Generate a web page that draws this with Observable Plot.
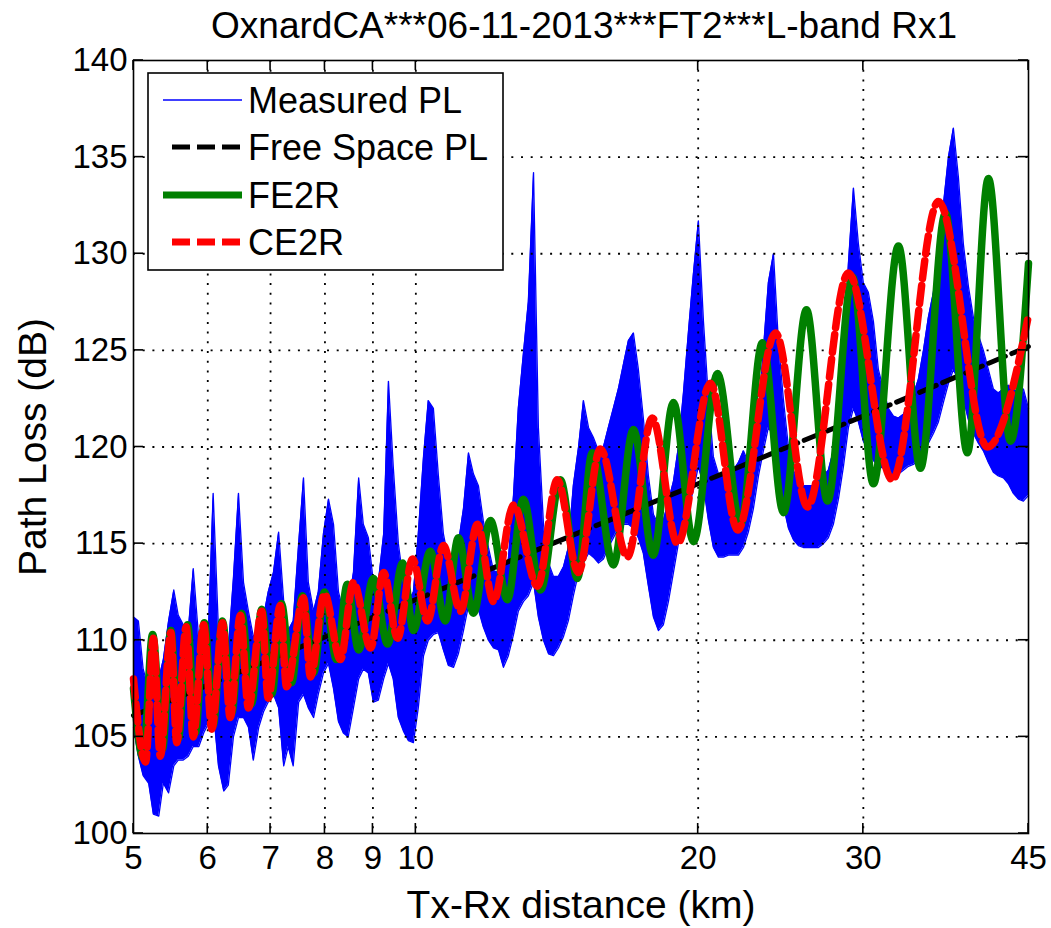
<!DOCTYPE html>
<html>
<head>
<meta charset="utf-8">
<script src="https://cdn.jsdelivr.net/npm/d3@7"></script>
<script src="https://cdn.jsdelivr.net/npm/@observablehq/plot@0.6"></script>
<style>
  html, body { margin: 0; padding: 0; background: #fff; }
  #chart { width: 1051px; height: 928px; }
</style>
</head>
<body>
<div id="chart"></div>
<script>
// ---------- data ----------
const titleText = "OxnardCA***06-11-2013***FT2***L-band Rx1";
const xLabel = "Tx-Rx distance (km)";
const yLabel = "Path Loss (dB)";
const xTicks = [5, 6, 7, 8, 9, 10, 20, 30, 45];
const yTicks = [100, 105, 110, 115, 120, 125, 130, 135, 140];
const legendNames = ["Measured PL", "Free Space PL", "FE2R", "CE2R"];

// Measured PL: distance (km) with lower / upper envelope of the dense trace (dB)
const measDist = [5.00,5.06,5.12,5.19,5.25,5.32,5.38,5.45,5.52,5.58,5.65,5.72,5.79,5.87,5.94,6.01,6.08,6.16,6.24,6.31,
  6.39,6.47,6.55,6.63,6.71,6.80,6.88,6.96,7.05,7.14,7.23,7.31,7.40,7.50,7.59,7.68,7.78,7.87,7.97,8.07,
  8.17,8.27,8.37,8.47,8.58,8.69,8.79,8.90,9.01,9.12,9.24,9.35,9.46,9.58,9.70,9.82,9.94,10.06,10.19,10.31,
  10.44,10.57,10.70,10.83,10.97,11.10,11.24,11.38,11.52,11.66,11.80,11.95,12.10,12.25,12.40,12.55,12.71,12.86,13.02,13.18,
  13.35,13.51,13.68,13.85,14.02,14.19,14.37,14.54,14.72,14.91,15.09,15.28,15.46,15.66,15.85,16.04,16.24,16.44,16.65,16.85,
  17.06,17.27,17.48,17.70,17.92,18.14,18.36,18.59,18.82,19.05,19.29,19.53,19.77,20.01,20.26,20.51,20.76,21.02,21.28,21.54,
  21.81,22.08,22.35,22.62,22.90,23.19,23.47,23.76,24.06,24.35,24.65,24.96,25.27,25.58,25.89,26.21,26.54,26.87,27.20,27.53,
  27.87,28.22,28.57,28.92,29.28,29.64,30.00,30.37,30.75,31.13,31.51,31.90,32.30,32.70,33.10,33.51,33.92,34.34,34.77,35.19,
  35.63,36.07,36.51,36.97,37.42,37.88,38.35,38.83,39.31,39.79,40.28,40.78,41.28,41.79,42.31,42.83,43.36,43.90,44.44,45.00];
const measLo = [105.5,104.0,103.0,102.6,101.0,100.9,102.6,102.1,103.5,103.8,103.8,104.0,104.5,104.5,105.2,105.7,106.5,103.5,102.2,102.5,
  105.0,106.0,106.0,105.5,103.8,105.5,106.3,106.8,107.2,106.5,103.5,104.5,103.5,106.8,107.2,106.5,106.0,107.2,108.3,108.8,
  107.5,105.8,105.2,105.0,106.5,108.0,108.5,108.3,106.8,106.9,108.0,108.8,108.0,106.0,105.3,104.8,104.7,106.5,109.2,110.0,
  110.3,110.4,109.5,108.7,108.6,109.3,110.5,111.8,112.0,111.6,110.7,110.0,109.6,109.5,108.6,109.2,110.3,111.5,112.0,112.3,
  113.0,111.2,110.0,109.3,109.2,109.6,110.2,111.0,112.3,113.5,114.0,114.5,114.3,114.0,114.2,114.8,115.3,115.8,116.0,116.0,
  115.8,115.3,114.5,112.8,111.2,110.5,110.8,112.0,113.5,115.0,116.2,116.8,117.8,119.0,118.0,116.2,114.8,114.3,114.3,114.4,
  114.4,114.4,114.8,115.6,116.8,118.5,119.8,121.0,120.6,118.8,117.0,115.8,115.2,114.9,114.8,114.8,114.8,114.8,115.0,115.3,
  116.0,117.3,119.0,121.0,122.0,121.3,120.3,119.8,119.3,119.0,118.9,118.7,118.6,118.6,118.8,119.0,119.1,119.3,119.7,120.2,
  120.7,121.3,122.3,123.3,124.0,123.5,122.5,121.4,120.7,120.2,119.8,119.2,118.7,118.5,118.4,118.1,117.6,117.3,117.2,117.5];
const measHi = [111.2,111.0,108.5,107.5,107.0,108.0,109.0,111.0,112.6,111.3,110.8,110.5,113.7,110.0,109.5,110.5,117.6,110.5,108.8,109.5,
  113.2,117.6,113.0,111.5,110.2,110.5,111.2,112.5,113.5,115.6,112.0,110.5,111.0,115.0,118.4,113.0,111.5,112.5,115.5,117.3,
  116.0,112.5,111.5,111.8,113.5,118.4,116.0,115.3,113.0,113.0,115.5,123.4,119.0,115.0,113.0,112.0,112.5,115.5,119.5,122.4,
  122.0,118.5,115.5,114.2,114.2,115.0,116.8,119.7,118.6,118.0,116.2,114.8,113.6,113.5,113.5,114.2,117.5,122.0,124.8,127.5,
  134.2,121.0,116.0,114.0,113.3,113.3,113.8,114.8,118.0,120.0,122.4,121.0,120.5,119.8,120.0,121.0,122.0,123.0,124.3,125.5,
  125.9,124.0,121.5,118.5,116.5,116.0,116.2,117.2,118.2,120.0,122.8,126.0,129.0,131.7,126.5,122.5,119.5,118.6,118.5,118.8,
  118.8,119.2,119.8,119.2,119.6,121.8,125.0,128.5,130.0,125.5,122.5,120.0,118.8,118.2,118.0,118.0,118.0,118.3,118.5,118.8,
  119.8,121.5,124.5,129.5,133.4,130.5,128.5,128.0,126.5,124.0,123.0,122.0,121.6,121.5,121.7,122.2,122.7,123.5,125.0,126.7,
  128.0,130.0,132.5,135.0,136.5,134.0,130.5,128.3,126.7,125.8,125.0,124.0,123.0,122.8,123.0,123.2,123.0,122.8,123.0,122.0];

// Free space path loss
const fsDist = [5, 10, 20, 30, 45];
const fsPL = [106.1, 112.1, 118.1, 121.6, 125.2];

// FE2R model: successive peaks and troughs
const fe2rDist = [5.00,5.12,5.24,5.37,5.48,5.58,5.71,5.82,5.95,6.08,6.22,6.36,6.52,6.68,6.85,7.02,7.19,7.37,7.57,7.78,
  7.99,8.23,8.45,8.69,9.01,9.33,9.68,9.94,10.36,10.75,11.10,11.52,12.01,12.52,13.02,13.58,14.26,14.87,15.42,16.24,
  17.06,17.91,18.82,19.77,20.97,22.19,23.42,24.66,26.09,27.47,29.21,30.75,32.70,34.51,36.70,38.73,40.78,43.05,45.00];
const fe2rPL = [107.5,103.9,110.3,104.4,110.5,104.9,110.8,105.2,110.9,105.6,111.0,106.2,111.4,106.7,111.6,107.2,111.9,107.8,112.3,108.3,
  112.5,109.0,112.9,109.5,113.2,109.8,114.0,110.5,114.6,111.0,115.3,111.4,116.2,112.1,117.3,112.6,118.3,113.2,119.7,113.9,
  120.9,114.4,122.3,115.1,123.8,116.0,125.4,116.6,127.1,117.2,128.8,118.1,130.4,118.9,132.1,119.7,133.9,120.3,129.5];

// CE2R model: successive peaks and troughs
const ce2rDist = [5.00,5.15,5.25,5.34,5.48,5.56,5.69,5.79,5.94,6.06,6.22,6.34,6.50,6.63,6.85,6.96,7.17,7.28,7.59,7.72,
  7.99,8.31,8.58,8.95,9.24,9.56,9.92,10.29,10.70,11.16,11.63,12.10,12.71,13.48,14.15,14.90,15.73,16.81,17.87,19.01,
  20.61,22.03,24.18,26.16,28.92,32.22,36.07,40.68,45.00];
const ce2rPL = [108.0,103.7,110.1,104.0,110.4,104.7,110.7,105.0,110.8,105.4,110.9,106.0,111.3,106.5,111.5,107.0,111.8,107.6,112.2,108.1,
  112.4,109.0,113.0,109.6,113.5,110.1,114.2,111.0,114.9,111.5,116.0,112.0,117.0,112.8,118.3,113.5,119.9,114.3,121.5,115.0,
  123.3,115.7,125.9,116.9,129.0,118.3,132.7,120.0,126.8];

// ---------- tables for the library ----------
const meas = measDist.map((d, i) => ({d, lo: measLo[i], hi: measHi[i]}));
const fs = fsDist.map((d, i) => ({d, v: fsPL[i]}));
const fe2r = fe2rDist.map((d, i) => ({d, v: fe2rPL[i]}));
const ce2r = ce2rDist.map((d, i) => ({d, v: ce2rPL[i]}));

const BLUE = "#0000ff", GREEN = "#008000", RED = "#ff0000";
const FONT = "'Liberation Sans', Arial, Helvetica, sans-serif";
const dots = "2,7.7";

const chart = Plot.plot({
  width: 1051,
  height: 928,
  marginLeft: 133,
  marginRight: 23,
  marginTop: 60,
  marginBottom: 95,
  style: {fontFamily: FONT, background: "#fff", color: "#000", overflow: "visible"},
  x: {type: "log", domain: [5, 45], label: null},
  y: {domain: [100, 140], label: null},
  marks: [
    Plot.areaY(meas, {x: "d", y1: "lo", y2: "hi", fill: BLUE, curve: "linear"}),
    Plot.line(meas, {x: "d", y: "hi", stroke: BLUE, strokeWidth: 1.3}),
    Plot.line(meas, {x: "d", y: "lo", stroke: BLUE, strokeWidth: 1.3}),
    Plot.gridX(xTicks.slice(1, -1), {stroke: "#000", strokeOpacity: 1, strokeWidth: 1.8, strokeDasharray: dots}),
    Plot.gridY(yTicks.slice(1, -1), {stroke: "#000", strokeOpacity: 1, strokeWidth: 1.8, strokeDasharray: dots}),
    Plot.line(fs, {x: "d", y: "v", stroke: "#000", strokeWidth: 5, strokeDasharray: "18,7"}),
    Plot.line(fe2r, {x: "d", y: "v", stroke: GREEN, strokeWidth: 7.5, curve: "monotone-x"}),
    Plot.line(ce2r, {x: "d", y: "v", stroke: RED, strokeWidth: 7.5, strokeDasharray: "18,7", curve: "monotone-x"}),
    Plot.frame({stroke: "#000", strokeWidth: 1.6}),
    Plot.axisX(xTicks, {anchor: "bottom", tickSize: 0, tickPadding: 12, fontSize: 33, label: null, tickFormat: d => `${d}`}),
    Plot.axisY(yTicks, {anchor: "left", tickSize: 0, tickPadding: 6, fontSize: 33, label: null, tickFormat: d => `${d}`}),
    Plot.text([titleText], {text: d => d, frameAnchor: "top", dy: -23, dx: 3, lineAnchor: "bottom", textAnchor: "middle", fontSize: 37}),
    Plot.text([xLabel], {text: d => d, frameAnchor: "bottom", dy: 72, lineAnchor: "middle", textAnchor: "middle", fontSize: 39}),
    Plot.text([yLabel], {text: d => d, frameAnchor: "left", dx: -100, rotate: -90, lineAnchor: "middle", textAnchor: "middle", fontSize: 39})
  ]
});

// ---------- inward ticks on all four sides (positions from the plot's scales) ----------
const sx = chart.scale("x"), sy = chart.scale("y");
const svg = d3.select(chart);
const x0 = sx.apply(5), x1 = sx.apply(45), yB = sy.apply(100), yT = sy.apply(140);
const tg = svg.append("g").attr("stroke", "#000").attr("stroke-width", 1.6);
const TL = 10;
for (const t of xTicks) {
  const x = sx.apply(t);
  tg.append("line").attr("x1", x).attr("x2", x).attr("y1", yB).attr("y2", yB - TL);
  tg.append("line").attr("x1", x).attr("x2", x).attr("y1", yT).attr("y2", yT + TL);
}
for (const t of yTicks) {
  const y = sy.apply(t);
  tg.append("line").attr("x1", x0).attr("x2", x0 + TL).attr("y1", y).attr("y2", y);
  tg.append("line").attr("x1", x1).attr("x2", x1 - TL).attr("y1", y).attr("y2", y);
}

// ---------- legend ----------
const lg = svg.append("g").attr("font-family", FONT).attr("text-anchor", "start");
const lx = x0 + 15, ly = yT + 13;
lg.append("rect").attr("x", lx).attr("y", ly).attr("width", 355).attr("height", 197)
  .attr("fill", "#fff").attr("stroke", "#000").attr("stroke-width", 1.6);
const rows = [27, 74, 122, 169];
const styles = [
  {stroke: BLUE, w: 1.5, dash: null, start: 15},
  {stroke: "#000", w: 5, dash: "18,7", start: 24},
  {stroke: GREEN, w: 7, dash: null, start: 15},
  {stroke: RED, w: 7, dash: "18,7", start: 24}
];
legendNames.forEach((name, i) => {
  const y = ly + rows[i];
  const s = styles[i];
  const ln = lg.append("line").attr("x1", lx + s.start).attr("x2", lx + 94)
    .attr("y1", y).attr("y2", y).attr("stroke", s.stroke).attr("stroke-width", s.w);
  if (s.dash) ln.attr("stroke-dasharray", s.dash);
  lg.append("text").attr("x", lx + 100).attr("y", y).attr("dy", "0.36em")
    .attr("text-anchor", "start").attr("font-size", 36).attr("fill", "#000").text(name);
});

document.getElementById("chart").appendChild(chart);
</script>
</body>
</html>
